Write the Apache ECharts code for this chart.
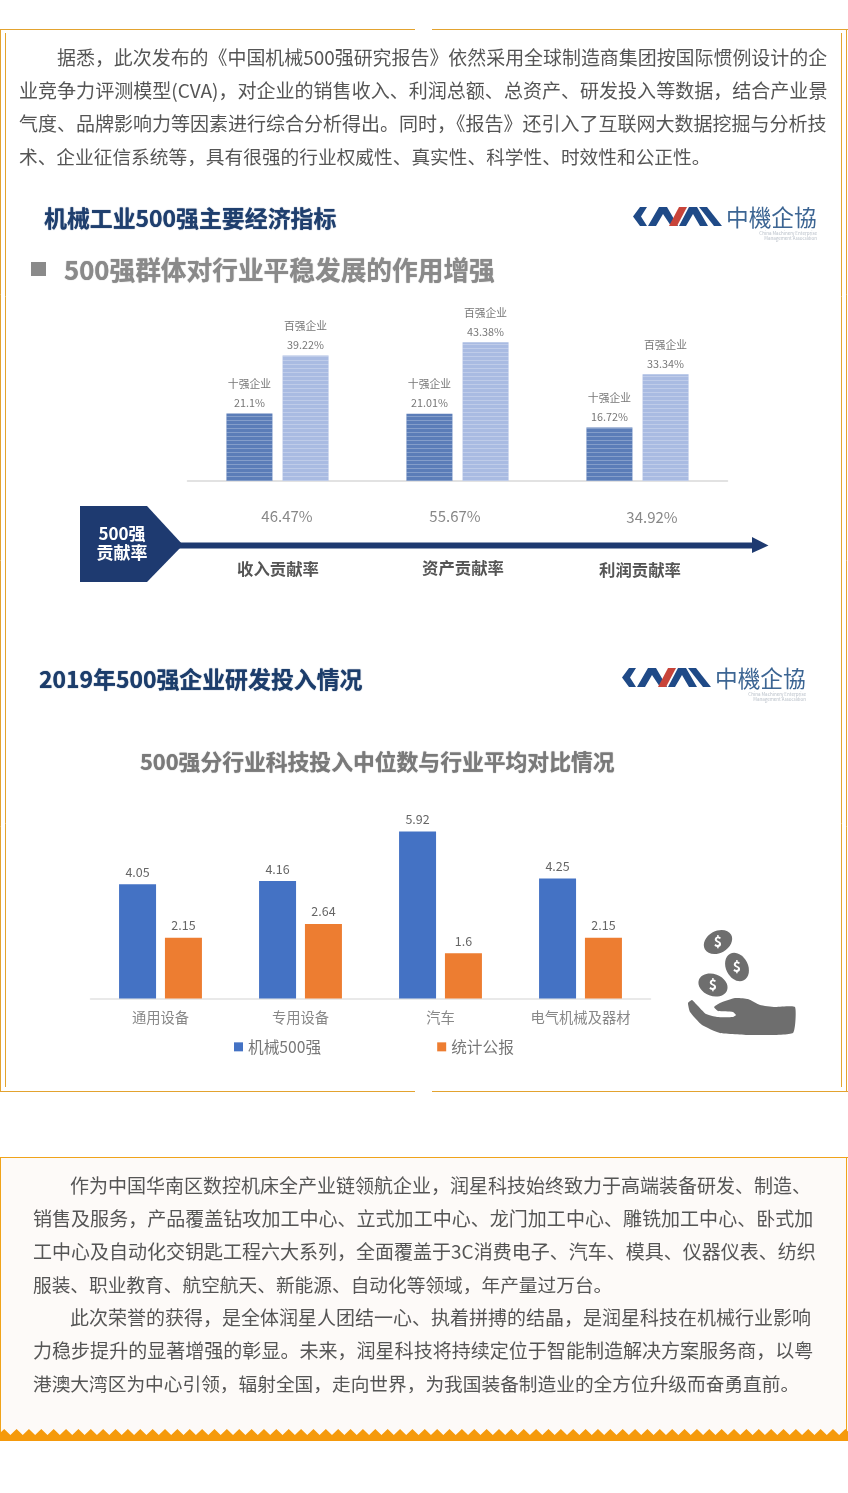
<!DOCTYPE html>
<html><head><meta charset="utf-8">
<style>html,body{margin:0;padding:0;background:#fff}#c{width:848px;height:1493px}</style>
<script src="https://cdn.jsdelivr.net/npm/echarts@6/dist/echarts.min.js"></script>
</head><body><div id="c"></div>
<script>
const FONT = '"Noto Sans CJK SC","Noto Sans",sans-serif';
// ---- chart 1 data
const contribCategories = ['收入贡献率','资产贡献率','利润贡献率'];
const topTen = [21.1, 21.01, 16.72];
const topHundred = [39.22, 43.38, 33.34];
const contribRates = ['46.47%','55.67%','34.92%'];
// ---- chart 2 data
const industries = ['通用设备','专用设备','汽车','电气机械及器材'];
const machinery500 = [4.05, 4.16, 5.92, 4.25];
const statsBulletin = [2.15, 2.64, 1.6, 2.15];
// ---- text
const para1 = ['据悉，此次发布的《中国机械500强研究报告》依然采用全球制造商集团按国际惯例设计的企',
 '业竞争力评测模型(CVA)，对企业的销售收入、利润总额、总资产、研发投入等数据，结合产业景',
 '气度、品牌影响力等因素进行综合分析得出。同时，《报告》还引入了互联网大数据挖掘与分析技',
 '术、企业征信系统等，具有很强的行业权威性、真实性、科学性、时效性和公正性。'];
const para2 = ['作为中国华南区数控机床全产业链领航企业，润星科技始终致力于高端装备研发、制造、',
 '销售及服务，产品覆盖钻攻加工中心、立式加工中心、龙门加工中心、雕铣加工中心、卧式加',
 '工中心及自动化交钥匙工程六大系列，全面覆盖于3C消费电子、汽车、模具、仪器仪表、纺织',
 '服装、职业教育、航空航天、新能源、自动化等领域，年产量过万台。',
 '此次荣誉的获得，是全体润星人团结一心、执着拼搏的结晶，是润星科技在机械行业影响',
 '力稳步提升的显著增强的彰显。未来，润星科技将持续定位于智能制造解决方案服务商，以粤',
 '港澳大湾区为中心引领，辐射全国，走向世界，为我国装备制造业的全方位升级而奋勇直前。'];

const g = [];
const txt = (text,x,y,size,color,opt={}) => g.push({type:'text',z:opt.z||5,
  style:{text,x,y,fill:color,fontSize:size,fontFamily:opt.family||FONT,fontWeight:opt.weight||'normal',
  align:opt.align||'left',verticalAlign:'middle',textShadowColor:opt.blur?color:'transparent',textShadowBlur:opt.blur||0}});
const poly = (points,fill,z=4,smooth=0) => g.push({type:'polygon',z,shape:{points,smooth},style:{fill}});
const line = (x1,y1,x2,y2,stroke,w=1) => g.push({type:'line',z:2,shape:{x1,y1,x2,y2},style:{stroke,lineWidth:w}});
const ORANGE='#e3a32f';
// card 1 frame
line(0,29.5,415,29.5,ORANGE); line(432,29.5,848,29.5,ORANGE);
line(0,1091.5,415,1091.5,ORANGE); line(432,1091.5,848,1091.5,ORANGE);
line(.5,29,.5,1092,ORANGE); line(846.5,29,846.5,1092,ORANGE);
line(5.5,33,5.5,1087,ORANGE); line(841.5,33,841.5,1087,ORANGE);
// card 2 frame
g.push({type:'rect',z:0,shape:{x:0,y:1157,width:848,height:284},style:{fill:'#fdfaf8'}});
line(0,1157.5,848,1157.5,'#f0a31a'); line(.5,1157,.5,1440,'#f0a31a'); line(846.5,1157,846.5,1440,'#f0a31a');
// scalloped foot
const scallop=[[0,1441]];
for(let i=0;i<=69;i++){const x=-2+i*12.37; scallop.push([x,1435],[x+6.2,1429]);}
scallop.push([848,1435],[848,1441]);
poly(scallop,'#f59a0c',3);

// paragraphs
const para1Size=[18.95,19.05,19,18.7], para2Size=[19,19.05,19,18.7,19,19.05,18.7];
para1.forEach((t,i)=>txt(t,i===0?57:19,58+i*33,para1Size[i],'#555'));
para2.forEach((t,i)=>txt(t,(i===0||i===4)?70:33,1186+i*33,para2Size[i],'#555'));

// headings
txt('机械工业500强主要经济指标',44,218,22.9,'#1f3f6e',{weight:'bold',blur:1});
g.push({type:'rect',z:4,shape:{x:31,y:262,width:15,height:14},style:{fill:'#8a8a8a'}});
txt('500强群体对行业平稳发展的作用增强',64,270,25.7,'#8a8a8a',{weight:'bold',blur:1});
txt('2019年500强企业研发投入情况',39,679,22.9,'#1c3d6b',{weight:'bold',blur:1});
txt('500强分行业科技投入中位数与行业平均对比情况',140,762,21.8,'#7a7a7a',{weight:'bold',blur:1});

// logos
function logo(ox,oy){
  const P=a=>a.map(([x,y])=>[ox+x,oy+y]);
  const B='#1f4a87';
  poly(P([[7,0],[14,0],[8,9.5],[14,19],[7,19],[0,9.5]]),B);
  poly(P([[15,19],[26,0],[34,0],[45,19],[38,19],[30,7],[23,19]]),B);
  poly(P([[36,19],[46,0],[54,0],[44,19]]),'#c8443a');
  poly(P([[46,19],[56,0],[64,0],[75,19],[67,19],[60,7],[53,19]]),B);
  poly(P([[66,0],[74,0],[89,19],[81,19]]),B);
  txt('中機企協',ox+93,oy+10,22.7,'#3c6593',{family:'"Noto Sans CJK TC",sans-serif'});
  txt('China Machinery Enterprise',ox+184,oy+26,4.5,'#b8bfc8',{align:'right'});
  txt('Management Association',ox+184,oy+31,4.5,'#b8bfc8',{align:'right'});
}
logo(633,207); logo(622,668);

// contribution arrow
poly([[80,506],[147,506],[183,545],[147,582],[80,582]],'#1e3a70');
g.push({type:'rect',z:4,shape:{x:175,y:542.5,width:580,height:6},style:{fill:'#1e3a70'}});
poly([[752,537],[768.5,545.5],[752,553]],'#1e3a70');
txt('500强',122,534,17,'#fff',{weight:'bold',align:'center'});
txt('贡献率',122,553,17,'#fff',{weight:'bold',align:'center'});
const rateX=[287,455,652], rateY=[516,516,517], catX=[278,463,640], catY=[569,568,570];
contribRates.forEach((t,i)=>txt(t,rateX[i],rateY[i],15,'#888',{align:'center'}));
contribCategories.forEach((t,i)=>txt(t,catX[i],catY[i],16.4,'#555',{weight:'bold',align:'center'}));

// hand + coins icon
poly([[688,1003],[692,1000],[697,1005],[706,1014],[717,1017],[733,1017],[736,1015],[733,1012],[718,1011],[714,1007],[720,1003],[735,998],[748,999],[760,1005],[775,1007],[795,1007],[793,1033],[750,1035],[720,1033],[702,1025],[690,1012]],'#6e6e6e',4,0.15);
[[718,942,15,11,.5],[737,967,15,11,-1.1],[713,985,15,11,-.35]].forEach(([cx,cy,rx,ry,r])=>{
  g.push({type:'ellipse',z:4,x:cx,y:cy,rotation:r,shape:{cx:0,cy:0,rx,ry},style:{fill:'#6e6e6e'}});
  txt('$',cx,cy,14,'#fff',{weight:'bold',align:'center',z:5});
});

const barLabel = (tag)=>({show:true,position:'top',distance:1,color:'#777',fontSize:10.8,fontFamily:FONT,lineHeight:19,
  formatter:p=>tag+'\n'+p.value+'%'});
const stripes = {symbol:'rect',symbolSize:1,dashArrayX:[1,0],dashArrayY:[1,3],rotation:0,color:'rgba(255,255,255,0.25)'};
const valLabel = {show:true,position:'top',distance:6,color:'#666',fontSize:12.5,fontFamily:FONT};

const opt = {
  animation:false, backgroundColor:'#fff',
  grid:[{left:187.5,width:540,top:321,height:160},{left:90.5,width:560,top:801,height:197.4}],
  xAxis:[
    {gridIndex:0,type:'category',data:contribCategories,axisLine:{lineStyle:{color:'#d9d9d9',width:1.5}},axisTick:{show:false},axisLabel:{show:false}},
    {gridIndex:1,type:'category',data:industries,axisLine:{lineStyle:{color:'#e2e2e2',width:1.5}},axisTick:{show:false},
     axisLabel:{color:'#888',fontSize:14.3,fontFamily:FONT,margin:12}}
  ],
  yAxis:[
    {gridIndex:0,type:'value',min:0,max:50,show:false},
    {gridIndex:1,type:'value',min:0,max:7,show:false}
  ],
  legend:{data:['机械500强','统计公报'],left:229,top:1034,itemWidth:9,itemHeight:9,itemGap:116,icon:'rect',
    textStyle:{color:'#777',fontSize:15.7,fontFamily:FONT}},
  series:[
    {name:'十强企业',type:'bar',xAxisIndex:0,yAxisIndex:0,data:topTen,barWidth:46,barGap:'22%',
     itemStyle:{color:'#5b7db8',decal:stripes},label:barLabel('十强企业')},
    {name:'百强企业',type:'bar',xAxisIndex:0,yAxisIndex:0,data:topHundred,barWidth:46,barGap:'22%',
     itemStyle:{color:'#a9bbe2',decal:stripes},label:barLabel('百强企业')},
    {name:'机械500强',type:'bar',xAxisIndex:1,yAxisIndex:1,data:machinery500,barWidth:37,barGap:'24%',
     itemStyle:{color:'#4472c4'},label:valLabel},
    {name:'统计公报',type:'bar',xAxisIndex:1,yAxisIndex:1,data:statsBulletin,barWidth:37,barGap:'24%',
     itemStyle:{color:'#ed7d31'},label:valLabel}
  ],
  graphic:{elements:g}
};
echarts.init(document.getElementById('c'),null,{renderer:'canvas'}).setOption(opt);
</script></body></html>
